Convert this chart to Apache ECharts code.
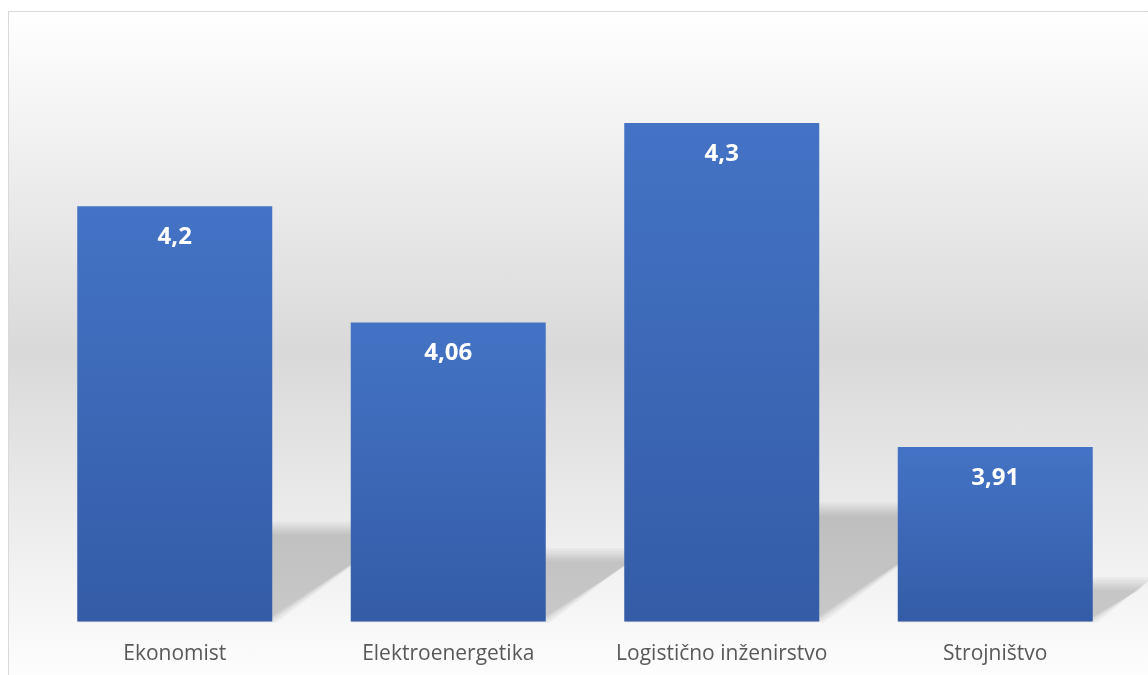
<!DOCTYPE html>
<html>
<head>
<meta charset="utf-8">
<script src="https://cdn.jsdelivr.net/npm/echarts@6/dist/echarts.min.js"></script>
<style>
  html, body { margin: 0; padding: 0; width: 1148px; height: 675px; overflow: hidden; background: #ffffff; }
  #bg { position: absolute; left: 8px; top: 11px; width: 1200px; height: 680px;
        border-left: 1.5px solid #d9d9d9; border-top: 1.5px solid #d9d9d9;
        background: linear-gradient(to bottom, #ffffff 0%, #d9d9d9 50%, #ffffff 100%); }
  #chart { position: absolute; left: 0; top: 0; width: 1148px; height: 675px; }
</style>
</head>
<body>
<div id="bg"></div>
<div id="chart"></div>
<script>
const categories = ['Ekonomist', 'Elektroenergetika', 'Logistično inženirstvo', 'Strojništvo'];
const values = [4.2, 4.06, 4.3, 3.91];
const yMin = 3.7;
const yMax = 4.4;

const chart = echarts.init(document.getElementById('chart'), null, { renderer: 'canvas' });
const barRatio = 0.713;

const shadowData = values.map((v, i) => [i, v]);

const option = {
  backgroundColor: 'transparent',
  animation: false,
  grid: { left: 38, right: 16, top: 40, bottom: 53.5, containLabel: false },
  xAxis: {
    type: 'category',
    data: categories,
    axisLine: { show: false },
    axisTick: { show: false },
    axisLabel: { color: '#595959', fontSize: 21, fontFamily: 'Open Sans', margin: 22, interval: 0 }
  },
  yAxis: {
    type: 'value',
    min: yMin,
    max: yMax,
    show: false,
    splitLine: { show: false }
  },
  series: [
    {
      type: 'custom',
      z: 1,
      silent: true,
      clip: false,
      data: shadowData,
      renderItem: function (params, api) {
        const i = api.value(0), v = api.value(1);
        const top = api.coord([i, v]);
        const base = api.coord([i, yMin]);
        const bw = api.size([1, 0])[0] * barRatio;
        const x0 = top[0] - bw / 2, x1 = top[0] + bw / 2;
        const H = base[1] - top[1];
        const h = H * 0.23;
        const dx = h * 1.4;
        const b = base[1];
        const children = [];
        const n = 7, s = 2.2;
        for (let k = 0; k < n; k++) {
          const o = (k - 2) * s;
          children.push({
            type: 'polygon',
            shape: { points: [
              [x0, b + Math.max(0, -o) * 0.3],
              [x1 - o, b + Math.max(0, -o) * 0.3],
              [x1 + dx - o, b - h + o],
              [x0 + dx, b - h + o]
            ] },
            style: { fill: 'rgba(0,0,0,0.032)' }
          });
        }
        return { type: 'group', children: children };
      }
    },
    {
      type: 'bar',
      z: 2,
      data: values,
      barWidth: (barRatio * 100) + '%',
      itemStyle: {
        color: new echarts.graphic.LinearGradient(0, 0, 0, 1, [
          { offset: 0, color: '#4473c5' },
          { offset: 1, color: '#345ca7' }
        ])
      },
      label: {
        show: true,
        position: 'insideTop',
        distance: 19,
        color: '#ffffff',
        fontSize: 24,
        fontWeight: 'bold',
        fontFamily: 'Open Sans',
        formatter: p => String(p.value).replace('.', ',')
      }
    }
  ]
};
chart.setOption(option);
</script>
</body>
</html>
